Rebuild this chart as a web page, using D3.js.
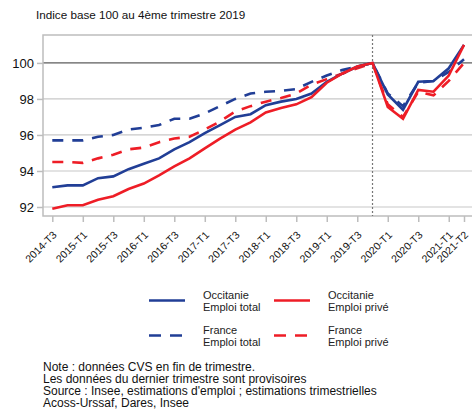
<!DOCTYPE html>
<html>
<head>
<meta charset="utf-8">
<script src="https://cdn.jsdelivr.net/npm/d3@7"></script>
<style>
  body { margin: 0; background: #fff; }
  svg { display: block; font-family: "Liberation Sans", Arial, sans-serif; }
</style>
</head>
<body>
<div id="chart"></div>
<script>
// quarters shown on the x axis
var quarters = ["2014-T3","2014-T4",
  "2015-T1","2015-T2","2015-T3","2015-T4",
  "2016-T1","2016-T2","2016-T3","2016-T4",
  "2017-T1","2017-T2","2017-T3","2017-T4",
  "2018-T1","2018-T2","2018-T3","2018-T4",
  "2019-T1","2019-T2","2019-T3","2019-T4",
  "2020-T1","2020-T2","2020-T3","2020-T4",
  "2021-T1","2021-T2"];

var tickLabels = ["2014-T3","2015-T1","2015-T3","2016-T1","2016-T3","2017-T1","2017-T3",
  "2018-T1","2018-T3","2019-T1","2019-T3","2020-T1","2020-T3","2021-T1","2021-T2"];

var yTicks = [92, 94, 96, 98, 100];

// index base 100 au 2019-T4
var occTotal = [93.1, 93.2, 93.2, 93.6, 93.7, 94.1, 94.4, 94.7, 95.2, 95.6, 96.1, 96.55, 97.0, 97.15,
  97.65, 97.85, 98.0, 98.3, 98.95, 99.4, 99.8, 100, 98.25, 97.4, 98.95, 99.0, 99.7, 101.0];
var occPrive = [91.9, 92.1, 92.1, 92.4, 92.6, 93.0, 93.3, 93.75, 94.25, 94.7, 95.25, 95.8, 96.3, 96.7,
  97.25, 97.5, 97.7, 98.1, 98.9, 99.4, 99.8, 100, 97.55, 96.9, 98.5, 98.4, 99.3, 101.0];
var fraTotal = [95.7, 95.7, 95.7, 95.9, 96.0, 96.3, 96.4, 96.55, 96.9, 96.9, 97.2, 97.6, 98.0, 98.3,
  98.4, 98.45, 98.55, 98.95, 99.3, 99.6, 99.8, 100, 98.3, 97.6, 98.9, 99.0, 99.5, 100.2];
var fraPrive = [94.5, 94.5, 94.45, 94.7, 94.9, 95.2, 95.3, 95.6, 95.8, 95.9, 96.3, 96.75, 97.3, 97.6,
  97.85, 98.05, 98.3, 98.8, 99.1, 99.4, 99.7, 100, 97.7, 97.0, 98.4, 98.2, 99.0, 100.0];

var blue = "#213e96", red = "#ee1d26";

var series = [
  {name: "Occitanie", sub: "Emploi total", values: occTotal, color: blue, dash: null},
  {name: "Occitanie", sub: "Emploi privé", values: occPrive, color: red, dash: null},
  {name: "France", sub: "Emploi total", values: fraTotal, color: blue, dash: "11,9"},
  {name: "France", sub: "Emploi privé", values: fraPrive, color: red, dash: "11,9"}
];

var width = 472, height = 410;
var plot = {left: 43, right: 478, top: 35, bottom: 216};

var svg = d3.select("#chart").append("svg")
  .attr("width", width)
  .attr("height", height);

var x = d3.scalePoint().domain(quarters).range([52.3, 464]);
var y = d3.scaleLinear().domain([91.5, 101.55]).range([plot.bottom, plot.top]);

// subtitle
svg.append("text")
  .attr("x", 36).attr("y", 19)
  .attr("font-size", "11.7px")
  .attr("fill", "#111")
  .text("Indice base 100 au 4ème trimestre 2019");

// gridlines
svg.append("g")
  .selectAll("line")
  .data(yTicks)
  .enter().append("line")
  .attr("x1", plot.left).attr("x2", plot.right)
  .attr("y1", function (d) { return y(d); })
  .attr("y2", function (d) { return y(d); })
  .attr("stroke", function (d) { return d === 100 ? "#333" : "#c8c8c8"; })
  .attr("stroke-width", function (d) { return d === 100 ? 1 : 1.2; });

// frame
svg.append("rect")
  .attr("x", plot.left).attr("y", plot.top)
  .attr("width", plot.right - plot.left)
  .attr("height", plot.bottom - plot.top)
  .attr("fill", "none")
  .attr("stroke", "#bdbdbd")
  .attr("stroke-width", 1.5);

// y axis
var yAxis = d3.axisLeft(y).tickValues(yTicks).tickSize(6).tickPadding(3);
var gy = svg.append("g")
  .attr("transform", "translate(" + plot.left + ",0)")
  .call(yAxis);
gy.select(".domain").remove();
gy.selectAll("line").attr("stroke", "#bdbdbd").attr("stroke-width", 1.5);
gy.selectAll("text").attr("font-size", "13px").attr("fill", "#111")
  .attr("font-family", "Liberation Sans, Arial, sans-serif");

// x axis
var xAxis = d3.axisBottom(x).tickValues(tickLabels).tickSize(6).tickPadding(2);
var gx = svg.append("g")
  .attr("transform", "translate(0," + plot.bottom + ")")
  .call(xAxis);
gx.select(".domain").remove();
gx.selectAll("line").attr("stroke", "#bdbdbd").attr("stroke-width", 1.5);
gx.selectAll("text")
  .attr("font-size", "10.5px")
  .attr("fill", "#111")
  .attr("font-family", "Liberation Sans, Arial, sans-serif")
  .style("text-anchor", "end")
  .attr("y", 0)
  .attr("dx", "0")
  .attr("dy", "0")
  .attr("transform", "translate(4.5,19.5) rotate(-45)");

// covid marker
svg.append("line")
  .attr("x1", x("2019-T4")).attr("x2", x("2019-T4"))
  .attr("y1", plot.top).attr("y2", plot.bottom)
  .attr("stroke", "#777")
  .attr("stroke-width", 1.2)
  .attr("stroke-dasharray", "2,2");

// lines
var line = d3.line()
  .x(function (d, i) { return x(quarters[i]); })
  .y(function (d) { return y(d); });

var drawOrder = [2, 3, 0, 1];
drawOrder.forEach(function (k) {
  var s = series[k];
  svg.append("path")
    .datum(s.values)
    .attr("d", line)
    .attr("fill", "none")
    .attr("stroke", s.color)
    .attr("stroke-width", 2.6)
    .attr("stroke-dasharray", s.dash);
});

// legend
var legendPos = [
  {lx: 149, ty: 299},
  {lx: 274, ty: 299},
  {lx: 149, ty: 334},
  {lx: 274, ty: 334}
];
var legend = svg.append("g").attr("font-size", "11px").attr("fill", "#222");
series.forEach(function (s, i) {
  var p = legendPos[i];
  legend.append("line")
    .attr("x1", p.lx).attr("x2", p.lx + 36)
    .attr("y1", p.ty + 1.5).attr("y2", p.ty + 1.5)
    .attr("stroke", s.color)
    .attr("stroke-width", 2.6)
    .attr("stroke-dasharray", s.dash ? "12,9" : null);
  var t = legend.append("text")
    .attr("x", p.lx + 54).attr("y", p.ty);
  t.append("tspan").attr("x", p.lx + 54).attr("dy", 0).text(s.name);
  t.append("tspan").attr("x", p.lx + 54).attr("dy", 12).text(s.sub);
});

// notes (one text block, one tspan per line)
var notes = [
  "Note : données CVS en fin de trimestre.",
  "Les données du dernier trimestre sont provisoires",
  "Source : Insee, estimations d'emploi ; estimations trimestrielles",
  "Acoss-Urssaf, Dares, Insee"
];
svg.append("text")
  .attr("x", 43)
  .attr("y", 370.5)
  .attr("font-size", "12px")
  .attr("fill", "#111")
  .selectAll("tspan")
  .data(notes)
  .enter().append("tspan")
  .attr("x", 43)
  .attr("dy", function (d, i) { return i === 0 ? 0 : 12; })
  .text(function (d) { return d; });
</script>
</body>
</html>
